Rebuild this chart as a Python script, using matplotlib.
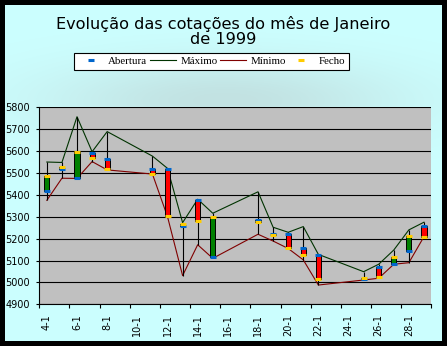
import numpy as np
import matplotlib
matplotlib.use('Agg')
import matplotlib.pyplot as plt
from matplotlib.lines import Line2D

# Cotações diárias de Janeiro de 1999
dias = [4, 5, 6, 7, 8, 11, 12, 13, 14, 15, 18, 19, 20, 21, 22, 25, 26, 27, 28, 29]
abertura = [5419, 5518, 5477, 5590, 5565, 5520, 5518, 5256, 5377, 5115,
            5285, 5222, 5220, 5159, 5127, 5016, 5072, 5083, 5145, 5259]
maximo = [5550, 5548, 5757, 5597, 5689, 5577, 5521, 5273, 5380, 5316,
          5414, 5252, 5229, 5255, 5128, 5049, 5083, 5148, 5240, 5275]
minimo = [5375, 5476, 5475, 5552, 5514, 5495, 5300, 5031, 5172, 5110,
          5220, 5189, 5155, 5103, 4988, 5011, 5019, 5083, 5090, 5209]
fecho = [5487, 5525, 5597, 5567, 5520, 5497, 5305, 5266, 5282, 5300,
         5278, 5218, 5157, 5127, 5016, 5018, 5026, 5118, 5214, 5209]

rotulos_x = ['4-1', '6-1', '8-1', '10-1', '12-1', '14-1', '16-1',
             '18-1', '20-1', '22-1', '24-1', '26-1', '28-1']
posicoes_x = [4, 6, 8, 10, 12, 14, 16, 18, 20, 22, 24, 26, 28]

W, H = 447, 346
fig = plt.figure(figsize=(W / 100, H / 100), dpi=100)

# fundo: moldura preta e área ciano com uma sombra suave por cima do gráfico
yy, xx = np.mgrid[0:H, 0:W]
w = np.exp(-(((xx - 225) / 175.0) ** 2 + ((yy - 100) / 42.0) ** 2))
ciano = np.array([204, 255, 255]) / 255.0
sombra = np.array([194, 226, 226]) / 255.0
img = ciano * (1 - w[..., None]) + sombra * w[..., None]
borda = 5
img[:borda, :] = 0
img[-borda:, :] = 0
img[:, :borda] = 0
img[:, -borda:] = 0
bg = fig.add_axes([0, 0, 1, 1], zorder=-1)
bg.imshow(img, aspect='auto', interpolation='bilinear')
bg.axis('off')

ax = fig.add_axes([39.3 / W, 41.7 / H, 392.2 / W, 197.0 / H])
ax.set_facecolor('#C0C0C0')

d = np.array(dias)
o = np.array(abertura)
c = np.array(fecho)

# linhas de máximo e mínimo
ax.plot(d, maximo, color='#003300', lw=0.8, zorder=2)
ax.plot(d, minimo, color='#800000', lw=0.8, zorder=2)

# mechas e corpos das velas
ax.vlines(d, minimo, maximo, color='black', lw=0.8, zorder=3)
cores = ['#008000' if fe > ab else '#FF0000' for ab, fe in zip(abertura, fecho)]
ax.bar(d, np.abs(c - o), bottom=np.minimum(o, c), width=0.34, color=cores,
       edgecolor='black', linewidth=0.7, zorder=4)
ax.plot(d, abertura, ls='', marker='_', ms=4.3, mew=2.2, color='#0066CC', zorder=5)
ax.plot(d, fecho, ls='', marker='_', ms=4.3, mew=2.2, color='#FFCC00', zorder=6)

ax.set_xlim(3.5, 29.5)
ax.set_ylim(4900, 5800)
ax.set_yticks(np.arange(4900, 5801, 100))
ax.yaxis.grid(True, color='black', lw=0.8)
ax.set_axisbelow(True)
for s in ['top', 'right']:
    ax.spines[s].set_visible(False)
ax.spines['left'].set_linewidth(0.8)
ax.spines['bottom'].set_linewidth(0.8)

ax.set_xticks(np.arange(3.5, 30, 2))
ax.set_xticklabels([])
ax.set_xticks(posicoes_x, minor=True)
ax.set_xticklabels(rotulos_x, minor=True, rotation=90, fontsize=7)
ax.tick_params(axis='x', which='major', direction='out', length=3, width=0.8)
ax.tick_params(axis='x', which='minor', length=0, pad=7)
ax.tick_params(axis='y', direction='out', length=2.5, width=0.8, labelsize=7, pad=4)

fig.text(0.5, 1 - 32 / H, 'Evolução das cotações do mês de Janeiro\nde 1999',
         ha='center', va='center', fontsize=11.6, linespacing=1.0)

handles = [
    Line2D([], [], ls='', marker='_', ms=4.3, mew=2.2, color='#0066CC'),
    Line2D([], [], color='#003300', lw=0.8),
    Line2D([], [], color='#800000', lw=0.8),
    Line2D([], [], ls='', marker='_', ms=4.3, mew=2.2, color='#FFCC00'),
]
leg = fig.legend(handles, ['Abertura', 'Máximo', 'Mínimo', 'Fecho'],
                 loc='center', bbox_to_anchor=(211.5 / W, 1 - 61.5 / H), ncol=4,
                 prop={'family': 'Liberation Serif', 'size': 7.8},
                 frameon=True, fancybox=False, edgecolor='black', framealpha=1,
                 handlelength=2.4, handletextpad=0.4, columnspacing=0.25,
                 borderpad=0.35, borderaxespad=0)
leg.get_frame().set_linewidth(0.8)

fig.savefig('out.png', dpi=100)
